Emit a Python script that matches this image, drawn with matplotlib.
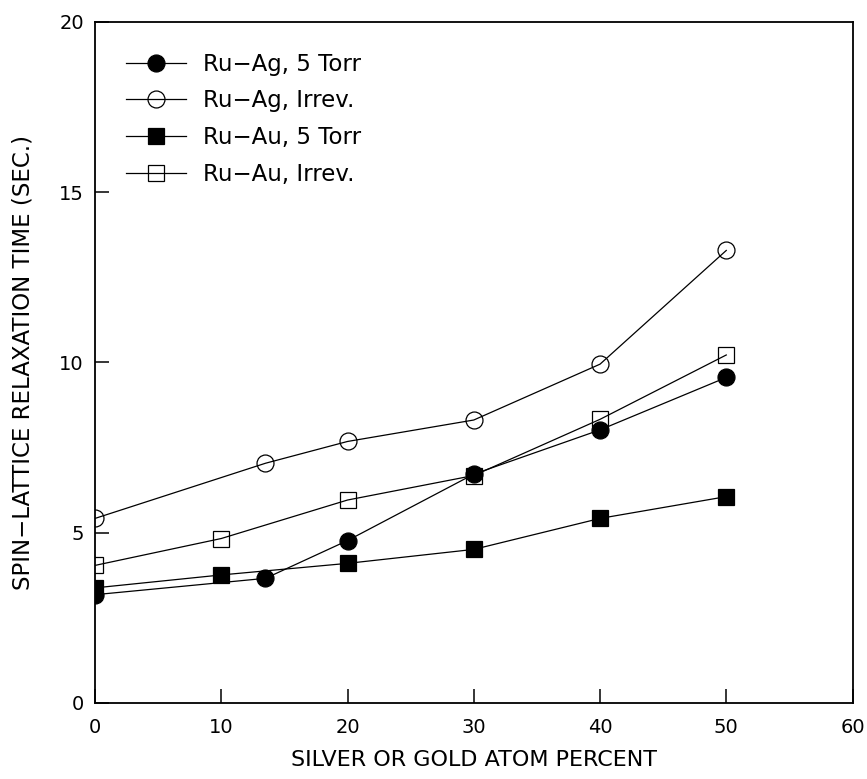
import numpy as np
import matplotlib.pyplot as plt

# Ru-Ag series (silver) and Ru-Au series (gold), relaxation time in seconds
ag_pct = [0, 13.5, 20, 30, 40, 50]
ag_5torr = [3.18, 3.66, 4.77, 6.72, 8.02, 9.56]
ag_irrev = [5.42, 7.04, 7.68, 8.31, 9.95, 13.29]

au_pct = [0, 10, 20, 30, 40, 50]
au_5torr = [3.38, 3.76, 4.10, 4.51, 5.42, 6.06]
au_irrev = [4.04, 4.83, 5.96, 6.68, 8.33, 10.22]

series = [
    (ag_pct, ag_5torr, 'o', 'black', "Ru\u2212Ag, 5 Torr"),
    (ag_pct, ag_irrev, 'o', 'none', "Ru\u2212Ag, Irrev."),
    (au_pct, au_5torr, 's', 'black', "Ru\u2212Au, 5 Torr"),
    (au_pct, au_irrev, 's', 'none', "Ru\u2212Au, Irrev."),
]

plt.rcParams['font.family'] = 'DejaVu Sans'
fig = plt.figure(figsize=(8.67, 7.79), dpi=100)
ax = fig.add_axes([0.1096, 0.0976, 0.8737, 0.8742])

for x, y, mk, fc, lab in series:
    ms = 12.2 if mk == 'o' else 11.5
    ax.plot(x, y, color='black', lw=0.9, marker=mk, ms=ms,
            mfc=fc, mec='black', mew=0.9, label=lab)

ax.set_xlim(0, 60)
ax.set_ylim(0, 20)
ax.set_xticks(np.arange(0, 61, 10))
ax.set_yticks(np.arange(0, 21, 5))
for s in ax.spines.values():
    s.set_linewidth(1.3)
ax.tick_params(axis='both', direction='in', length=10, width=1.1,
               labelsize=14, top=False, right=False)
ax.tick_params(axis='x', pad=11)
ax.tick_params(axis='y', pad=8)

ax.set_xlabel("SILVER OR GOLD ATOM PERCENT", fontsize=16, labelpad=9)
ax.set_ylabel("SPIN\u2212LATTICE RELAXATION TIME (SEC.)", fontsize=16.5, labelpad=18)

ax.legend(loc='upper left', bbox_to_anchor=(0.041, 0.955), frameon=False,
          fontsize=16.5, handlelength=2.6, handletextpad=0.75,
          labelspacing=0.6, borderpad=0, borderaxespad=0)

fig.savefig("out.png", dpi=100)
